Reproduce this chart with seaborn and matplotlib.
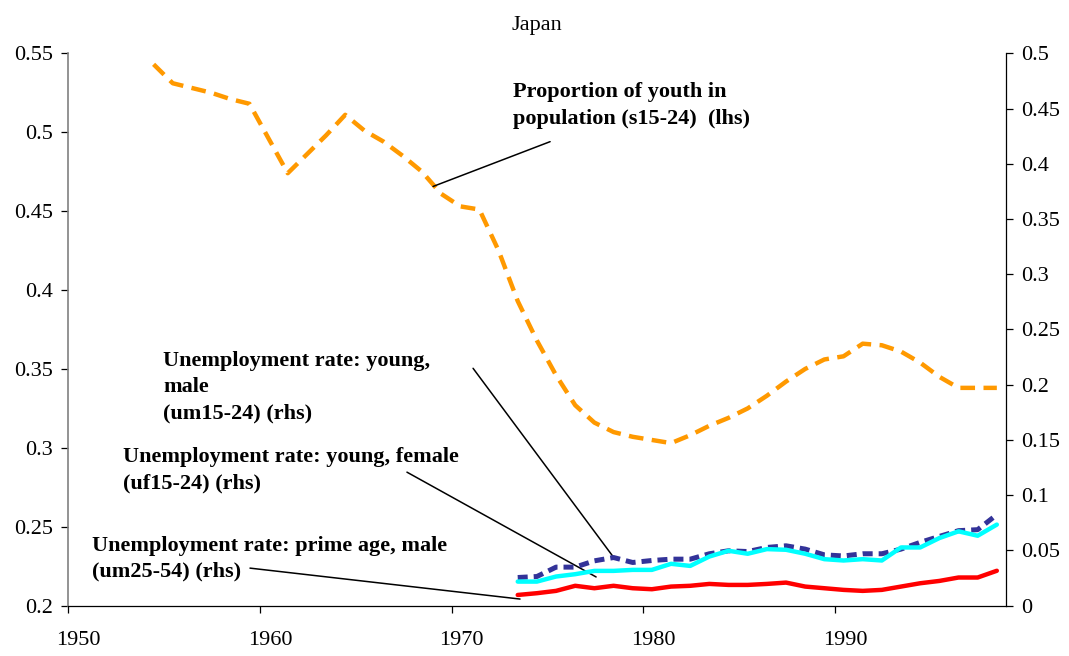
import numpy as np
import pandas as pd
import matplotlib
matplotlib.use("Agg")
import matplotlib.pyplot as plt
import matplotlib.transforms as mtransforms
from matplotlib.ticker import FixedLocator, FuncFormatter
import seaborn as sns

# ---------------- data ----------------
youth_years = list(range(1954, 1999))
youth_share = [0.543, 0.531, 0.528, 0.525, 0.521, 0.518, 0.496, 0.474, 0.486, 0.498,
               0.511, 0.501, 0.494, 0.485, 0.475, 0.461, 0.453, 0.451, 0.425, 0.393,
               0.368, 0.346, 0.327, 0.316, 0.310, 0.307, 0.305, 0.303, 0.308, 0.314,
               0.319, 0.325, 0.333, 0.342, 0.350, 0.356, 0.358, 0.366, 0.365, 0.361,
               0.354, 0.345, 0.338, 0.338, 0.338]

unemp_years = list(range(1973, 1999))
um15_24 = [0.0255, 0.0264, 0.0349, 0.0349, 0.0406, 0.0436, 0.0391, 0.0409, 0.0421, 0.0421,
           0.0470, 0.0497, 0.0490, 0.0527, 0.0542, 0.0512, 0.0460, 0.0450, 0.0470, 0.0470,
           0.0512, 0.0573, 0.0627, 0.0679, 0.0688, 0.0824]
uf15_24 = [0.0218, 0.0218, 0.0264, 0.0285, 0.0315, 0.0315, 0.0324, 0.0324, 0.0379, 0.0360,
           0.0445, 0.0497, 0.0470, 0.0512, 0.0506, 0.0470, 0.0421, 0.0409, 0.0421, 0.0409,
           0.0527, 0.0527, 0.0612, 0.0673, 0.0633, 0.0734]
um25_54 = [0.0097, 0.0113, 0.0134, 0.0180, 0.0158, 0.0180, 0.0158, 0.0149, 0.0173, 0.0180,
           0.0197, 0.0188, 0.0188, 0.0197, 0.0209, 0.0173, 0.0158, 0.0143, 0.0134, 0.0143,
           0.0173, 0.0203, 0.0224, 0.0255, 0.0255, 0.0316]

x_ticks = [1950, 1960, 1970, 1980, 1990]
left_ticks = [0.2, 0.25, 0.3, 0.35, 0.4, 0.45, 0.5, 0.55]
right_ticks = [0, 0.05, 0.1, 0.15, 0.2, 0.25, 0.3, 0.35, 0.4, 0.45, 0.5]

title = "Japan"
lbl_youth = "Proportion of youth in\npopulation (s15-24)  (lhs)"
lbl_um = "Unemployment rate: young,\nmale\n(um15-24) (rhs)"
lbl_uf = "Unemployment rate: young, female\n(uf15-24) (rhs)"
lbl_pm = "Unemployment rate: prime age, male\n(um25-54) (rhs)"

# ---------------- style ----------------
sns.set_theme(style="white")
plt.rcParams["font.family"] = ["Liberation Serif", "DejaVu Serif"]
plt.rcParams["font.size"] = 16
for k in ("text.color", "axes.labelcolor", "xtick.color", "ytick.color"):
    plt.rcParams[k] = "black"

fig = plt.figure(figsize=(10.69, 6.56), dpi=100)
ax = fig.add_axes([0.0639, 0.0767, 0.8772, 0.8421])
ax2 = ax.twinx()

MID = 0.45  # mid-year placement of annual observations
df_y = pd.DataFrame({"year": np.array(youth_years) + MID, "v": youth_share})
df_u = pd.DataFrame({"year": np.array(unemp_years) + MID,
                     "um": um15_24, "uf": uf15_24, "pm": um25_54})

sns.lineplot(data=df_y, x="year", y="v", ax=ax, color="#FF9900", linewidth=3.2,
             linestyle=(0, (3.3, 1.9)), dash_capstyle="butt")
sns.lineplot(data=df_u, x="year", y="um", ax=ax2, color="#333399", linewidth=3.6,
             linestyle=(0, (2.0, 1.2)), dash_capstyle="butt")
sns.lineplot(data=df_u, x="year", y="uf", ax=ax2, color="#00FFFF", linewidth=3.2)
sns.lineplot(data=df_u, x="year", y="pm", ax=ax2, color="#FF0000", linewidth=3.2)

ax.set_xlim(1950, 1998.93)
ax.set_ylim(0.2, 0.55)
ax2.set_ylim(0, 0.5)

ax.set_xlabel("")
ax.set_ylabel("")
ax2.set_ylabel("")

fmt = FuncFormatter(lambda v, p: ("%g" % round(v, 4)))
ax.xaxis.set_major_locator(FixedLocator(x_ticks))
ax.yaxis.set_major_locator(FixedLocator(left_ticks))
ax2.yaxis.set_major_locator(FixedLocator(right_ticks))
ax.yaxis.set_major_formatter(fmt)
ax2.yaxis.set_major_formatter(fmt)
ax.xaxis.set_major_formatter(FuncFormatter(lambda v, p: "%d" % v))

for a in (ax, ax2):
    a.grid(False)
    for s in a.spines.values():
        s.set_visible(False)
ax.spines["left"].set_visible(True)
ax.spines["left"].set_color("#808080")
ax.spines["left"].set_linewidth(1.2)
ax.spines["bottom"].set_visible(True)
ax.spines["bottom"].set_color("#000000")
ax.spines["bottom"].set_linewidth(0.9)
ax2.spines["right"].set_visible(True)
ax2.spines["right"].set_color("#000000")
ax2.spines["right"].set_linewidth(0.9)

ax.tick_params(axis="x", direction="out", length=5, width=0.9, color="black",
               pad=13, labelsize=16, bottom=True, labelcolor="black")
ax.tick_params(axis="y", direction="out", length=5, width=0.9, color="black",
               pad=6, labelsize=16, left=True, labelcolor="black")
ax2.tick_params(axis="y", direction="out", length=5, width=0.9, color="black",
                pad=6, labelsize=16, right=True, labelcolor="black")

offset = mtransforms.ScaledTranslation(0.10, 0, fig.dpi_scale_trans)
for lab in ax.get_xticklabels():
    lab.set_transform(lab.get_transform() + offset)

ax.set_title(title, fontsize=16, pad=17, color="black")

# ---------------- annotations ----------------
line_kw = dict(arrowstyle="-", color="black", lw=1.1, shrinkA=0, shrinkB=0)
ax.annotate("", xy=(1969.03, 0.4656), xytext=(1975.14, 0.494), arrowprops=line_kw)
ax.annotate("", xy=(1978.48, 0.2302), xytext=(1971.12, 0.3504), arrowprops=line_kw)
ax.annotate("", xy=(1977.54, 0.2182), xytext=(1967.67, 0.2846), arrowprops=line_kw)
ax.annotate("", xy=(1973.57, 0.2042), xytext=(1959.48, 0.2238), arrowprops=line_kw)

# text anchored at the baseline of its last line
tkw = dict(fontsize=16, fontweight="bold", ha="left", va="baseline",
           linespacing=1.42, color="black")
ax.text(1973.2, 0.5055, lbl_youth, **tkw)
ax.text(1954.95, 0.3188, lbl_um, **tkw)
ax.text(1952.86, 0.2745, lbl_uf, **tkw)
ax.text(1951.24, 0.2182, lbl_pm, **tkw)

fig.savefig("out.png", dpi=100, facecolor="white")
